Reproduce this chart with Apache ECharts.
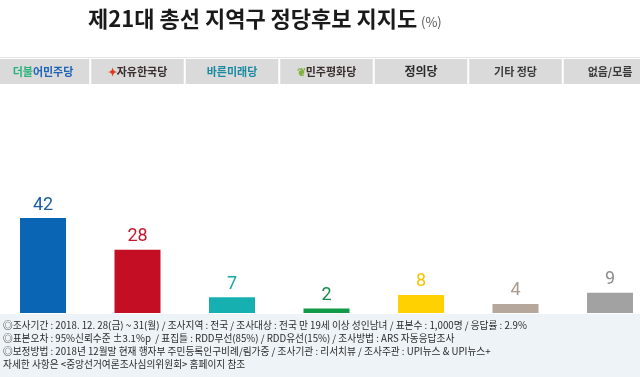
<!DOCTYPE html>
<html><head><meta charset="utf-8">
<script src="https://cdn.jsdelivr.net/npm/echarts@6/dist/echarts.min.js"></script>
<style>html,body{margin:0;padding:0;background:#fff;}#c{width:640px;height:377px;}</style>
</head><body><div id="c"></div>
<script>
var categories = ['더불어민주당','자유한국당','바른미래당','민주평화당','정의당','기타 정당','없음/모름'];
var values = [42, 28, 7, 2, 8, 4, 9];
var titleText = '제21대 총선 지역구 정당후보 지지도';
var unitText = '(%)';
var notes = [
 '◎조사기간 : 2018. 12. 28(금) ~ 31(월) / 조사지역 : 전국 / 조사대상 : 전국 만 19세 이상 성인남녀 / 표본수 : 1,000명 / 응답률 : 2.9%',
 '◎표본오차 : 95%신뢰수준 ±3.1%p  / 표집틀 : RDD무선(85%) / RDD유선(15%) / 조사방법 : ARS 자동응답조사',
 '◎보정방법 : 2018년 12월말 현재 행자부 주민등록인구비례/림가중 / 조사기관 : 리서치뷰 / 조사주관 : UPI뉴스 & UPI뉴스+',
 '자세한 사항은 <중앙선거여론조사심의위원회> 홈페이지 참조'
];

var barColors = ['#0a66b4','#c30e24','#16b0b0','#0f9a48','#ffd100','#b5a79b','#a2a2a2'];
var labelColors = ['#1b5ea6','#c1182d','#17a8a6','#13894a','#f6c300','#a99b90','#8d8d8d'];

var chart = echarts.init(document.getElementById('c'), null, {renderer:'canvas'});
var font = '"Noto Sans CJK KR", "Noto Sans", sans-serif';

var option = {
  animation: false,
  backgroundColor: '#ffffff',
  grid: [
    {left: -4.25, width: 661.5, top: 200, bottom: 64, outerBoundsMode: 'none', containLabel: false},
    {left: -4.25, width: 661.5, top: 0, height: 59, outerBoundsMode: 'none', containLabel: false}
  ],
  xAxis: [
    {type:'category', gridIndex:0, data: categories, axisLine:{show:false}, axisTick:{show:false}, axisLabel:{show:false}},
    {type:'category', gridIndex:1, data: categories, position:'bottom',
     axisLine:{show:false}, axisTick:{show:false},
     axisLabel:{
       interval:0, margin:0, width:92.5, height:25, lineHeight:25,
       backgroundColor:'#dadada', borderColor:'#ffffff', borderWidth:1,
       align:'center', verticalAlign:'top', hideOverlap:false,
       fontFamily: font, fontSize: 11, fontWeight:'bold',
       formatter: function(v, i){
         if (i === 0) return '{g|더불}{b|어민주당}';
         if (i === 1) return '{r|✦}{n|' + v + '}';
         if (i === 3) return '{lf|❦}{n|' + v + '}';
         return '{n' + i + '|' + v + '}';
       },
       rich: {
         g:{color:'#29b37a', fontFamily: font, fontSize: 11, fontWeight:'bold'},
         b:{color:'#1d63b8', fontFamily: font, fontSize: 11, fontWeight:'bold'},
         r:{color:'#e03a1e', fontSize: 11, fontWeight:'bold'},
         lf:{color:'#7fb23a', fontSize: 11},
         n:{color:'#3a2e2e', fontFamily: font, fontSize: 11, fontWeight:'bold'},
         n2:{color:'#1a8aa0', fontFamily: font, fontSize: 11, fontWeight:'bold'},
         n4:{color:'#2a2a2a', fontFamily: font, fontSize: 12, fontWeight:'bold'},
         n5:{color:'#3a3a3a', fontFamily: font, fontSize: 11, fontWeight:'bold'},
         n6:{color:'#3a3a3a', fontFamily: font, fontSize: 11, fontWeight:'bold'}
       }
     }}
  ],
  yAxis: [
    {type:'value', gridIndex:0, min:0, max:50, show:false},
    {type:'value', gridIndex:1, show:false}
  ],
  graphic: [
    {type:'rect', left:0, top:314, shape:{width:640, height:63}, style:{fill:'#eef3f7'}, z:-1},
    {type:'line', shape:{x1:0, y1:57.5, x2:640, y2:57.5}, style:{stroke:'#e6e6e6', lineWidth:1}},
    {type:'text', left: 88, top: 8, style:{text: titleText, font: 'bold 22px ' + font, fill:'#1a1a1a'}},
    {type:'text', left: 421, top: 16, style:{text: unitText, font: '13px ' + font, fill:'#555'}},
    {type:'text', left: 3, top: 320, style:{text: notes[0], font: '9.7px ' + font, fill:'#2a2a2a'}},
    {type:'text', left: 3, top: 333, style:{text: notes[1], font: '9.7px ' + font, fill:'#2a2a2a'}},
    {type:'text', left: 3, top: 346, style:{text: notes[2], font: '9.7px ' + font, fill:'#2a2a2a'}},
    {type:'text', left: 3, top: 359, style:{text: notes[3], font: '9.7px ' + font, fill:'#2a2a2a'}}
  ],
  series: [{
    type:'bar', xAxisIndex:0, yAxisIndex:0,
    data: values, barWidth: 46,
    itemStyle:{color: function(p){ return barColors[p.dataIndex]; }},
    label:{show:true, position:'top', distance:4, fontSize:18, fontFamily:'Roboto, "Noto Sans", sans-serif',
      formatter: function(p){ return '{c' + p.dataIndex + '|' + p.value + '}'; },
      rich: (function(){ var r={}; labelColors.forEach(function(c,i){ r['c'+i]={color:c, fontSize:18, fontFamily:'Roboto, sans-serif'}; }); return r; })()
    }
  }]
};
chart.setOption(option);
</script></body></html>
